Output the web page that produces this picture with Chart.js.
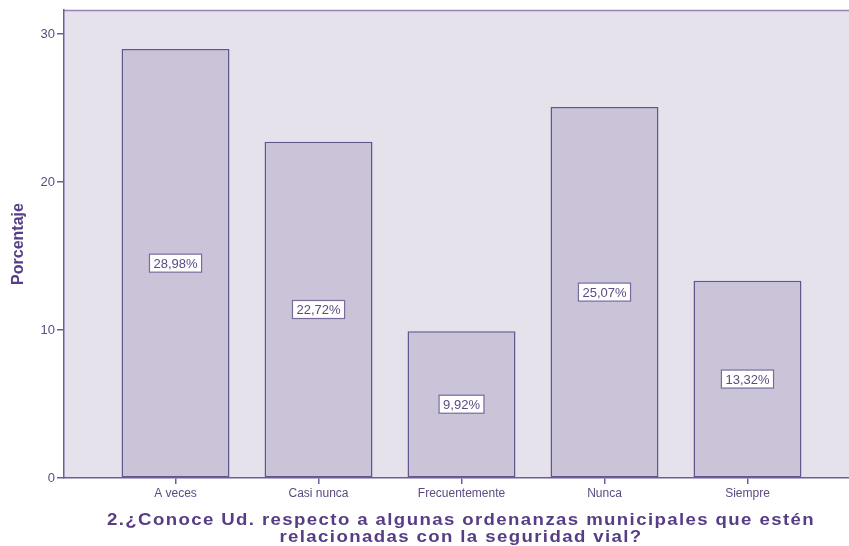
<!DOCTYPE html>
<html>
<head>
<meta charset="utf-8">
<script src="https://cdn.jsdelivr.net/npm/chart.js@4/dist/chart.umd.min.js"></script>
<style>
  html, body { margin: 0; padding: 0; background: #ffffff; }
  #wrap { width: 849px; height: 546px; }
</style>
</head>
<body>
<div id="wrap"><canvas id="chart" width="849" height="546"></canvas></div>
<script>
'use strict';

var categories = ['A veces', 'Casi nunca', 'Frecuentemente', 'Nunca', 'Siempre'];
var percents = [28.98, 22.72, 9.92, 25.07, 13.32];
var yTicks = [0, 10, 20, 30];
var xTitleLines = [
  '2.\u00bfConoce Ud. respecto a algunas ordenanzas municipales que est\u00e9n',
  'relacionadas con la seguridad vial?'
];

var purpleText = '#5c4b82';
var titleColor = '#563d86';
var axisColor = '#6e5e96';

function fmt(v) {
  return v.toFixed(2).replace('.', ',') + '%';
}

// plot background + thin top frame
var plotBackground = {
  id: 'plotBackground',
  beforeDraw: function(chart) {
    var a = chart.chartArea;
    var ctx = chart.ctx;
    ctx.save();
    ctx.fillStyle = '#e6e2ec';
    ctx.fillRect(a.left, a.top, a.right - a.left, a.bottom - a.top);
    ctx.strokeStyle = '#9485b4';
    ctx.lineWidth = 1.5;
    ctx.beginPath();
    ctx.moveTo(a.left, a.top + 0.5);
    ctx.lineTo(a.right, a.top + 0.5);
    ctx.stroke();
    ctx.restore();
  }
};

// boxed percentage in the middle of each bar
var valueBoxes = {
  id: 'valueBoxes',
  afterDatasetsDraw: function(chart) {
    var ctx = chart.ctx;
    var meta = chart.getDatasetMeta(0);
    ctx.save();
    ctx.font = '13px "Liberation Sans", Arial, sans-serif';
    ctx.textAlign = 'center';
    ctx.textBaseline = 'middle';
    meta.data.forEach(function(bar, i) {
      var text = fmt(percents[i]);
      var cy = (bar.y + bar.base) / 2;
      var w = ctx.measureText(text).width + 8;
      var h = 18;
      ctx.fillStyle = '#ffffff';
      ctx.fillRect(bar.x - w / 2, cy - h / 2, w, h);
      ctx.strokeStyle = '#7a6a9e';
      ctx.lineWidth = 1.2;
      ctx.strokeRect(bar.x - w / 2, cy - h / 2, w, h);
      ctx.fillStyle = purpleText;
      ctx.fillText(text, bar.x, cy + 1);
    });
    ctx.restore();
  }
};

// wide bold axis title under the category labels (stretched horizontally)
var bottomTitle = {
  id: 'bottomTitle',
  afterDraw: function(chart) {
    var ctx = chart.ctx;
    var cx = 461;
    ctx.save();
    ctx.font = 'bold 16px "Liberation Sans", Arial, sans-serif';
    ctx.letterSpacing = '1.2px';
    var stretch = 708 / ctx.measureText(xTitleLines[0]).width;
    ctx.fillStyle = titleColor;
    ctx.textAlign = 'center';
    ctx.textBaseline = 'middle';
    ctx.translate(cx, 0);
    ctx.scale(stretch, 1);
    ctx.fillText(xTitleLines[0], 0, 521);
    ctx.fillText(xTitleLines[1], 0, 538);
    ctx.restore();
  }
};

var ctx = document.getElementById('chart').getContext('2d');
var chart = new Chart(ctx, {
  type: 'bar',
  data: {
    datasets: [{
      data: percents.map(function(v, i) { return { x: i, y: v }; }),
      backgroundColor: '#cbc3d8',
      borderColor: '#65558f',
      borderWidth: 1.5,
      borderSkipped: false,
      categoryPercentage: 1,
      barPercentage: 0.755
    }]
  },
  options: {
    responsive: false,
    animation: false,
    layout: { padding: { top: 10, right: 0, left: 0, bottom: 0 } },
    plugins: {
      legend: { display: false },
      tooltip: { enabled: false }
    },
    scales: {
      x: {
        type: 'linear',
        offset: false,
        min: -0.78,
        max: 4.71,
        afterBuildTicks: function(scale) {
          scale.ticks = categories.map(function(c, i) { return { value: i }; });
        },
        afterFit: function(scale) { scale.height = 68; },
        ticks: {
          autoSkip: false,
          maxRotation: 0,
          padding: 2,
          color: purpleText,
          font: { family: '"Liberation Sans", Arial, sans-serif', size: 12 },
          callback: function(v) { return categories[v]; }
        },
        grid: { offset: false, drawOnChartArea: false, tickLength: 6, color: axisColor, lineWidth: 1.5 },
        border: { color: axisColor, width: 1.5 }
      },
      y: {
        min: 0,
        max: 31.62,
        afterBuildTicks: function(scale) {
          scale.ticks = yTicks.map(function(v) { return { value: v }; });
        },
        afterFit: function(scale) { scale.width = 64; },
        ticks: {
          padding: 2,
          color: purpleText,
          font: { family: '"Liberation Sans", Arial, sans-serif', size: 13 }
        },
        grid: { drawOnChartArea: false, tickLength: 7, color: axisColor, lineWidth: 1.5 },
        border: { color: axisColor, width: 1.5 },
        title: {
          display: true,
          text: 'Porcentaje',
          color: titleColor,
          padding: { top: 9, bottom: 0 },
          font: { family: '"Liberation Sans Narrow", "Liberation Sans", Arial, sans-serif', size: 16, weight: 'bold' }
        }
      }
    }
  },
  plugins: [plotBackground, valueBoxes, bottomTitle]
});
</script>
</body>
</html>
